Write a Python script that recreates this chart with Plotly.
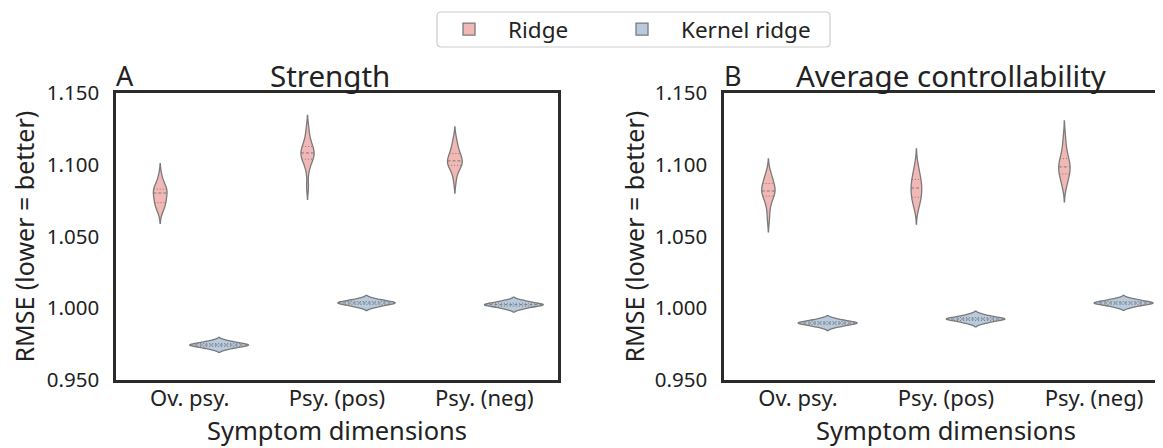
import numpy as np
import plotly.graph_objects as go

# ---------------- data ----------------
categories = ["Ov. psy.", "Psy. (pos)", "Psy. (neg)"]
models = ["Ridge", "Kernel ridge"]
panel_titles = ["Strength", "Average controllability"]
panel_letters = ["A", "B"]
y_ticks = [0.95, 1.00, 1.05, 1.10, 1.15]

# Panel A: Strength  (RMSE samples per symptom dimension)
strength_ridge_ov = [1.0676, 1.0705, 1.0722, 1.0732, 1.0740, 1.0760, 1.0785, 1.0803,
                     1.0812, 1.0820, 1.0828, 1.0832, 1.0850, 1.0880, 1.0923]
strength_ridge_pos = [1.0845, 1.0960, 1.1010, 1.1035, 1.1042, 1.1055, 1.1070, 1.1082,
                      1.1092, 1.1105, 1.1120, 1.1135, 1.1160, 1.1200, 1.1257]
strength_ridge_neg = [1.0885, 1.0950, 1.0975, 1.0988, 1.1004, 1.1012, 1.1020, 1.1027,
                      1.1038, 1.1050, 1.1070, 1.1086, 1.1110, 1.1140, 1.1181]
strength_kernel_ov = [0.9712, 0.9720, 0.9727, 0.9732, 0.9736, 0.9739, 0.9742, 0.9744,
                      0.9746, 0.9749, 0.9752, 0.9756, 0.9761, 0.9768, 0.9776]
strength_kernel_pos = [1.0005, 1.0012, 1.0019, 1.0024, 1.0029, 1.0032, 1.0035, 1.0037,
                       1.0039, 1.0042, 1.0045, 1.0049, 1.0054, 1.0061, 1.0069]
strength_kernel_neg = [0.9993, 1.0001, 1.0008, 1.0013, 1.0017, 1.0020, 1.0023, 1.0025,
                       1.0027, 1.0030, 1.0033, 1.0037, 1.0042, 1.0049, 1.0057]

# Panel B: Average controllability
avgctrl_ridge_ov = [1.0622, 1.0700, 1.0745, 1.0768, 1.0795, 1.0803, 1.0810, 1.0817,
                    1.0830, 1.0845, 1.0862, 1.0877, 1.0895, 1.0920, 1.0950]
avgctrl_ridge_pos = [1.0694, 1.0730, 1.0755, 1.0763, 1.0785, 1.0805, 1.0825, 1.0838,
                     1.0850, 1.0868, 1.0890, 1.0905, 1.0930, 1.0960, 1.1003]
avgctrl_ridge_neg = [1.0849, 1.0880, 1.0905, 1.0922, 1.0950, 1.0962, 1.0975, 1.0985,
                     1.0995, 1.1010, 1.1035, 1.1051, 1.1080, 1.1130, 1.1197]
avgctrl_kernel_ov = [0.9865, 0.9873, 0.9880, 0.9885, 0.9889, 0.9892, 0.9895, 0.9897,
                     0.9899, 0.9902, 0.9905, 0.9909, 0.9914, 0.9921, 0.9929]
avgctrl_kernel_pos = [0.9891, 0.9900, 0.9907, 0.9913, 0.9917, 0.9920, 0.9923, 0.9925,
                      0.9927, 0.9930, 0.9933, 0.9937, 0.9942, 0.9950, 0.9959]
avgctrl_kernel_neg = [1.0005, 1.0013, 1.0020, 1.0025, 1.0029, 1.0032, 1.0035, 1.0037,
                      1.0039, 1.0042, 1.0045, 1.0049, 1.0054, 1.0061, 1.0069]

panel_data = [
    {"Ridge": [strength_ridge_ov, strength_ridge_pos, strength_ridge_neg],
     "Kernel ridge": [strength_kernel_ov, strength_kernel_pos, strength_kernel_neg]},
    {"Ridge": [avgctrl_ridge_ov, avgctrl_ridge_pos, avgctrl_ridge_neg],
     "Kernel ridge": [avgctrl_kernel_ov, avgctrl_kernel_pos, avgctrl_kernel_neg]},
]

# ---------------- styles ----------------
W, H = 1163, 448          # browser window
OFF = 8                   # default page margin of the html body
FW, FH = W - OFF, H - OFF  # figure size so it ends exactly at the window edge
FONT = "Noto Sans"
TXT = "#222222"
SPINE = "#2b2b2b"
EDGE = "#7a7a7a"
fill_colors = {"Ridge": "#F2B8B5", "Kernel ridge": "#B8CADE"}
legend_ids = {"Ridge": "legend", "Kernel ridge": "legend2"}
GAP = 0.2
BDPOS = 0.5 * (1 - GAP) / len(models)
OFFSETS = {m: 2 * 0.5 * (-0.5 + (k + 0.5) / len(models)) * (1 - GAP) for k, m in enumerate(models)}

# window-pixel layout
plot_top, plot_bot = 93, 380
A_left, A_right = 116, 558
B_left = 724
B_step = 148.0


def px_x(p):
    return (p - OFF) / FW


def px_y(p):
    return 1 - (p - OFF) / FH


# ---------- KDE replicating plotly's violin defaults (for quartile lines) ----------
def kde_setup(vals):
    v = np.sort(np.asarray(vals, float))
    n = len(v)
    q1, q3 = np.percentile(v, [25, 75], method="hazen")
    ssd = v.std(ddof=1)
    bw = max(1.059 * min(ssd, (q3 - q1) / 1.349) * n ** -0.2, (v[-1] - v[0]) / 100)
    return v, bw


def kde_eval(v, bw, t):
    t = np.atleast_1d(np.asarray(t, float))
    u = (t[:, None] - v[None, :]) / bw
    return np.exp(-0.5 * u ** 2).sum(1) / (len(v) * bw * np.sqrt(2 * np.pi))


def kde_max(v, bw):
    lo, hi = v[0] - 2 * bw, v[-1] + 2 * bw
    nk = int(np.ceil((hi - lo) / (bw / 3)))
    t = lo + np.arange(nk + 1) * (hi - lo) / nk
    return kde_eval(v, bw, t).max()


fig = go.Figure()
positions = list(range(len(categories)))

for p, pdata in enumerate(panel_data):
    xa = "x" if p == 0 else "x2"
    ya = "y" if p == 0 else "y2"
    group = "grp" + panel_letters[p]
    gmax = 0.0
    for m in models:
        for vals in pdata[m]:
            v, bw = kde_setup(vals)
            gmax = max(gmax, kde_max(v, bw))
    for m in models:
        xs, ys = [], []
        for pos, vals in zip(positions, pdata[m]):
            xs += [pos] * len(vals)
            ys += list(vals)
        fig.add_trace(go.Violin(
            x=xs, y=ys, name=m, legendgroup=m, showlegend=(p == 0), legend=legend_ids[m],
            scalegroup=group, scalemode="width", points=False,
            alignmentgroup=group, offsetgroup=m,
            fillcolor=fill_colors[m], opacity=1,
            line=dict(color=EDGE, width=1.3),
            box=dict(visible=False), meanline=dict(visible=False),
            hoverinfo="skip", xaxis=xa, yaxis=ya,
        ))
        med_x, med_y, q_x, q_y = [], [], [], []
        for pos, vals in zip(positions, pdata[m]):
            v, bw = kde_setup(vals)
            q1, med, q3 = np.percentile(v, [25, 50, 75])
            xc = pos + OFFSETS[m]
            for q, lx, ly in ((med, med_x, med_y), (q1, q_x, q_y), (q3, q_x, q_y)):
                half = BDPOS * kde_eval(v, bw, q)[0] / gmax
                lx += [xc - half, xc + half, None]
                ly += [q, q, None]
        fig.add_trace(go.Scatter(x=med_x, y=med_y, mode="lines", showlegend=False,
                                 line=dict(color=EDGE, width=1, dash="3px,2px"),
                                 hoverinfo="skip", xaxis=xa, yaxis=ya))
        fig.add_trace(go.Scatter(x=q_x, y=q_y, mode="lines", showlegend=False,
                                 line=dict(color=EDGE, width=1, dash="1px,2px"),
                                 hoverinfo="skip", xaxis=xa, yaxis=ya))

B_range_right = -0.5 + (W - B_left) / B_step

axis_common = dict(showgrid=False, zeroline=False, ticks="", showline=True,
                   linecolor=SPINE, linewidth=2.5, automargin=False)
xfont = dict(family=FONT, size=22, color=TXT)
yfont = dict(family=FONT, size=20.5, color=TXT)

legend_common = dict(orientation="h", xanchor="left", y=px_y(29.5), yanchor="middle",
                     borderwidth=0, bgcolor="rgba(0,0,0,0)", itemwidth=68,
                     font=dict(family=FONT, size=22.5, color=TXT))

fig.update_layout(
    width=FW, height=FH,
    margin=dict(l=0, r=0, t=0, b=0, autoexpand=False),
    paper_bgcolor="white", plot_bgcolor="white",
    violinmode="group", violingap=GAP, violingroupgap=0,
    font=dict(family=FONT, color=TXT),
    xaxis=dict(domain=[px_x(A_left), px_x(A_right)], range=[-0.5, 2.5],
               tickmode="array", tickvals=positions, ticktext=categories,
               mirror=True, anchor="y", ticklabelstandoff=-3, tickfont=xfont, **axis_common),
    yaxis=dict(domain=[px_y(plot_bot), px_y(plot_top)], range=[0.95, 1.15],
               tickmode="array", tickvals=y_ticks, tickformat=".3f",
               mirror=True, anchor="x", ticklabelstandoff=10, tickfont=yfont, **axis_common),
    xaxis2=dict(domain=[px_x(B_left), 1.0], range=[-0.5, B_range_right],
                tickmode="array", tickvals=positions, ticktext=categories,
                mirror=True, anchor="y2", ticklabelstandoff=-3, tickfont=xfont, **axis_common),
    yaxis2=dict(domain=[px_y(plot_bot), px_y(plot_top)], range=[0.95, 1.15],
                tickmode="array", tickvals=y_ticks, tickformat=".3f",
                mirror=False, anchor="x2", ticklabelstandoff=10, tickfont=yfont, **axis_common),
    legend=dict(x=px_x(430), **legend_common),
    legend2=dict(x=px_x(603), **legend_common),
)


# legend frame with rounded corners (matplotlib-style fancy box)
def rounded_box(x0, y0, x1, y1, r):
    X = lambda v: f"{px_x(v):.5f}"
    Y = lambda v: f"{px_y(v):.5f}"
    return (f"M {X(x0 + r)} {Y(y0)} L {X(x1 - r)} {Y(y0)} Q {X(x1)} {Y(y0)} {X(x1)} {Y(y0 + r)} "
            f"L {X(x1)} {Y(y1 - r)} Q {X(x1)} {Y(y1)} {X(x1 - r)} {Y(y1)} "
            f"L {X(x0 + r)} {Y(y1)} Q {X(x0)} {Y(y1)} {X(x0)} {Y(y1 - r)} "
            f"L {X(x0)} {Y(y0 + r)} Q {X(x0)} {Y(y0)} {X(x0 + r)} {Y(y0)} Z")


fig.add_shape(type="path", xref="paper", yref="paper", path=rounded_box(437, 12, 830, 47, 4),
              line=dict(color="#cccccc", width=1.2), fillcolor="rgba(255,255,255,0.8)", layer="below")

ann = []
title_centers = [330, 951]
axis_centers = [(A_left + A_right) / 2, (B_left + B_left + 3 * B_step) / 2]
lefts = [A_left, B_left]
ytitle_x = [23, 633]
for p in range(2):
    ann.append(dict(text=panel_titles[p], x=px_x(title_centers[p]), y=px_y(75), xref="paper", yref="paper",
                    xanchor="center", yanchor="middle", showarrow=False,
                    font=dict(family=FONT, size=29.5, color=TXT)))
    ann.append(dict(text=panel_letters[p], x=px_x(lefts[p] - 2), y=px_y(75), xref="paper", yref="paper",
                    xanchor="left", yanchor="middle", showarrow=False,
                    font=dict(family=FONT, size=27, color=TXT)))
    ann.append(dict(text="Symptom dimensions", x=px_x(axis_centers[p]), y=px_y(430), xref="paper", yref="paper",
                    xanchor="center", yanchor="middle", showarrow=False,
                    font=dict(family=FONT, size=25.5, color=TXT)))
    ann.append(dict(text="RMSE (lower = better)", x=px_x(ytitle_x[p]), y=px_y((plot_top + plot_bot) / 2),
                    xref="paper", yref="paper", xanchor="center", yanchor="middle", textangle=-90,
                    showarrow=False, font=dict(family=FONT, size=25, color=TXT)))
fig.update_layout(annotations=ann)

fig.write_html("out.html")
